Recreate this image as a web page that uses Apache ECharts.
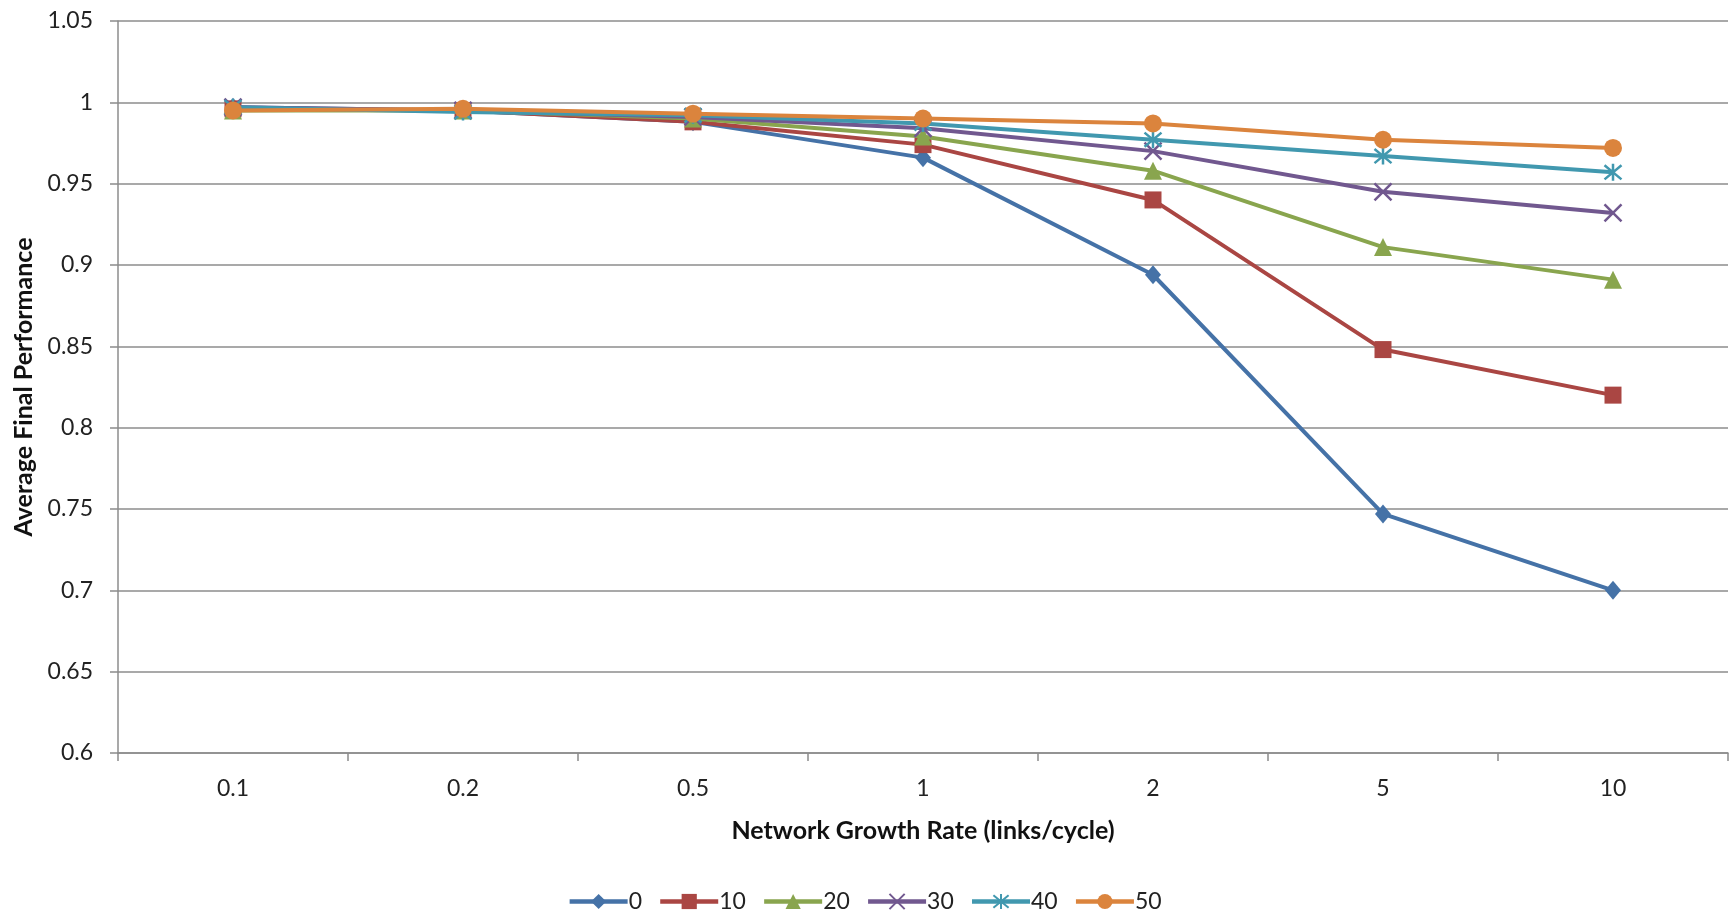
<!DOCTYPE html>
<html>
<head>
<meta charset="utf-8">
<script src="https://cdn.jsdelivr.net/npm/echarts@6/dist/echarts.min.js"></script>
<style>
  html, body { margin: 0; padding: 0; background: #fff; }
  #chart { width: 1729px; height: 916px; }
</style>
</head>
<body>
<div id="chart"></div>
<script>
// Network growth rate categories (links/cycle)
const rates = ['0.1', '0.2', '0.5', '1', '2', '5', '10'];

// Average final performance per series
const s0  = [0.997, 0.995, 0.988, 0.966, 0.894, 0.747, 0.700];
const s10 = [0.996, 0.995, 0.988, 0.974, 0.940, 0.848, 0.820];
const s20 = [0.995, 0.995, 0.990, 0.979, 0.958, 0.911, 0.891];
const s30 = [0.997, 0.995, 0.991, 0.984, 0.970, 0.945, 0.932];
const s40 = [0.997, 0.994, 0.992, 0.987, 0.977, 0.967, 0.957];
const s50 = [0.995, 0.996, 0.993, 0.990, 0.987, 0.977, 0.972];

const seriesNames = ['0', '10', '20', '30', '40', '50'];
const seriesData = [s0, s10, s20, s30, s40, s50];

const colors = ['#4572A7', '#AA4643', '#89A54E', '#71588F', '#4198AF', '#DB843D'];
const FONT = 'Lato, "Open Sans", sans-serif';

const crossPath = 'path://M0,0L10,10M10,0L0,10';
const starPath = 'path://M0,0L10,10M10,0L0,10M5,-1L5,11';

const markers = [
  { symbol: 'diamond', size: [16, 19], stroke: false },
  { symbol: 'rect', size: 17, stroke: false },
  { symbol: 'triangle', size: 18, stroke: false },
  { symbol: crossPath, size: 17, stroke: true },
  { symbol: starPath, size: 17, stroke: true },
  { symbol: 'circle', size: 18, stroke: false }
];

const series = seriesNames.map((name, i) => {
  const m = markers[i];
  return {
    name: name,
    type: 'line',
    data: seriesData[i],
    symbol: m.symbol,
    symbolSize: m.size,
    showAllSymbol: true,
    lineStyle: { color: colors[i], width: 4 },
    itemStyle: m.stroke
      ? { color: 'rgba(0,0,0,0)', borderColor: colors[i], borderWidth: 2.5 }
      : { color: colors[i], borderWidth: 0 },
    emphasis: { disabled: true },
    z: 2 + i
  };
});

const chart = echarts.init(document.getElementById('chart'), null, { renderer: 'canvas' });
chart.setOption({
  animation: false,
  color: colors,
  grid: { left: 118, right: 1, top: 21, bottom: 163, containLabel: false },
  legend: {
    bottom: -2,
    left: 'center',
    itemWidth: 58,
    itemHeight: 19,
    itemGap: 16,
    lineStyle: { width: 4.5 },
    textStyle: { fontFamily: FONT, fontSize: 23, color: '#222', padding: [0, 0, 0, -4] },
    data: seriesNames
  },
  xAxis: {
    type: 'category',
    data: rates,
    boundaryGap: true,
    name: 'Network Growth Rate (links/cycle)',
    nameLocation: 'middle',
    nameGap: 65,
    nameTextStyle: { fontFamily: FONT, fontSize: 25, fontWeight: 'bold', color: '#111' },
    axisLine: { lineStyle: { color: '#8c8c8c', width: 1.5 } },
    axisTick: { show: true, length: 8, lineStyle: { color: '#8c8c8c', width: 1.5 } },
    axisLabel: { fontFamily: FONT, fontSize: 23, color: '#222', margin: 24 },
    splitLine: { show: false }
  },
  yAxis: {
    type: 'value',
    min: 0.6,
    max: 1.05,
    interval: 0.05,
    name: 'Average Final Performance',
    nameLocation: 'middle',
    nameGap: 80,
    nameRotate: 90,
    nameTextStyle: { fontFamily: FONT, fontSize: 25, fontWeight: 'bold', color: '#111' },
    axisLine: { show: true, lineStyle: { color: '#8c8c8c', width: 1.5 } },
    axisTick: { show: true, length: 8, lineStyle: { color: '#8c8c8c', width: 1.5 } },
    axisLabel: {
      fontFamily: FONT, fontSize: 23, color: '#222', margin: 25,
      formatter: v => String(parseFloat(v.toFixed(2)))
    },
    splitLine: { show: true, lineStyle: { color: '#8c8c8c', width: 1.5 } }
  },
  series: series
});
</script>
</body>
</html>
